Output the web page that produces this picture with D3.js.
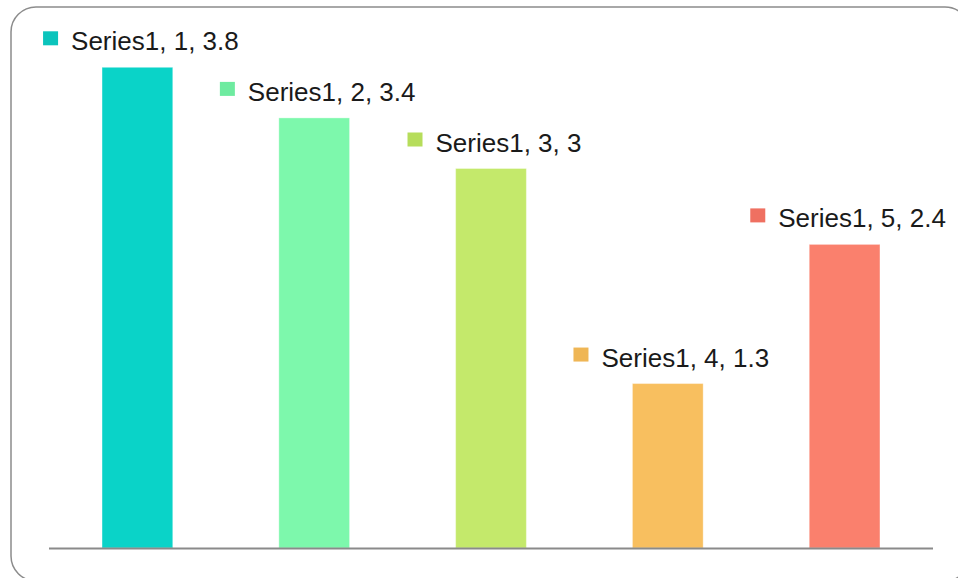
<!doctype html>
<html lang="en">
<head>
<meta charset="utf-8">
<title>Series1</title>
<style>
  html, body { margin: 0; padding: 0; background: #fff; }
  svg { display: block; }
</style>
</head>
<body>
<div id="chart"></div>
<script src="https://d3js.org/d3.v7.min.js"></script>
<script>
  var w = 958, h = 578;

  // data
  var series = "Series1";
  var categories = ["1", "2", "3", "4", "5"];
  var values = [3.8, 3.4, 3, 1.3, 2.4];
  var barColors = ["#0ad3c8", "#7df8ac", "#c4e96b", "#f8bf5f", "#fa806d"];
  var markColors = ["#0bc4bc", "#6eeba0", "#b6dd5b", "#efb655", "#ef7061"];

  var svg = d3.select("#chart")
    .append("svg")
    .attr("width", w)
    .attr("height", h);

  // rounded frame, runs off the right and bottom edges
  svg.append("rect")
    .attr("x", 11)
    .attr("y", 7)
    .attr("width", 959)
    .attr("height", 574)
    .attr("rx", 25)
    .attr("ry", 25)
    .attr("fill", "none")
    .attr("stroke", "#8c8c8c")
    .attr("stroke-width", 1.5);

  var x = d3.scaleBand()
    .domain(categories)
    .range([49, 933])
    .paddingInner(0.6)
    .paddingOuter(0.3);

  var y = d3.scaleLinear()
    .domain([0, 4])
    .range([548, 42]);

  var data = categories.map(function(c, i) { return {cat: c, val: values[i], i: i}; });

  svg.selectAll("rect.bar")
    .data(data)
    .enter()
    .append("rect")
    .attr("class", "bar")
    .attr("x", function(d) { return x(d.cat); })
    .attr("y", function(d) { return y(d.val); })
    .attr("width", x.bandwidth())
    .attr("height", function(d) { return y(0) - y(d.val); })
    .attr("fill", function(d) { return barColors[d.i]; })
    .attr("stroke", "#ffffff")
    .attr("stroke-opacity", 0.35)
    .attr("stroke-width", 1);

  // baseline
  svg.append("line")
    .attr("x1", x.range()[0])
    .attr("x2", x.range()[1])
    .attr("y1", y(0) + 0.5)
    .attr("y2", y(0) + 0.5)
    .attr("stroke", "#8a8a8a")
    .attr("stroke-width", 2);

  // data labels with their little colour squares
  var lab = svg.selectAll("g.lab")
    .data(data)
    .enter()
    .append("g")
    .attr("class", "lab");

  lab.append("text")
    .attr("y", function(d) { return y(d.val) - 17; })
    .attr("fill", "#1a1a1a")
    .style("font-family", "'Liberation Sans', Arial, sans-serif")
    .style("font-size", "26px")
    .text(function(d) { return series + ", " + d.cat + ", " + d.val; });

  lab.each(function(d) {
    var g = d3.select(this);
    var t = g.select("text");
    var tw = t.node().getComputedTextLength();
    var left = x(d.cat) + x.bandwidth() / 2 + 3.5 - (28 + tw) / 2;
    t.attr("x", left + 28);
    g.append("rect")
      .attr("x", left)
      .attr("y", y(d.val) - 36)
      .attr("width", 15)
      .attr("height", 14)
      .attr("fill", markColors[d.i]);
  });
</script>
</body>
</html>
